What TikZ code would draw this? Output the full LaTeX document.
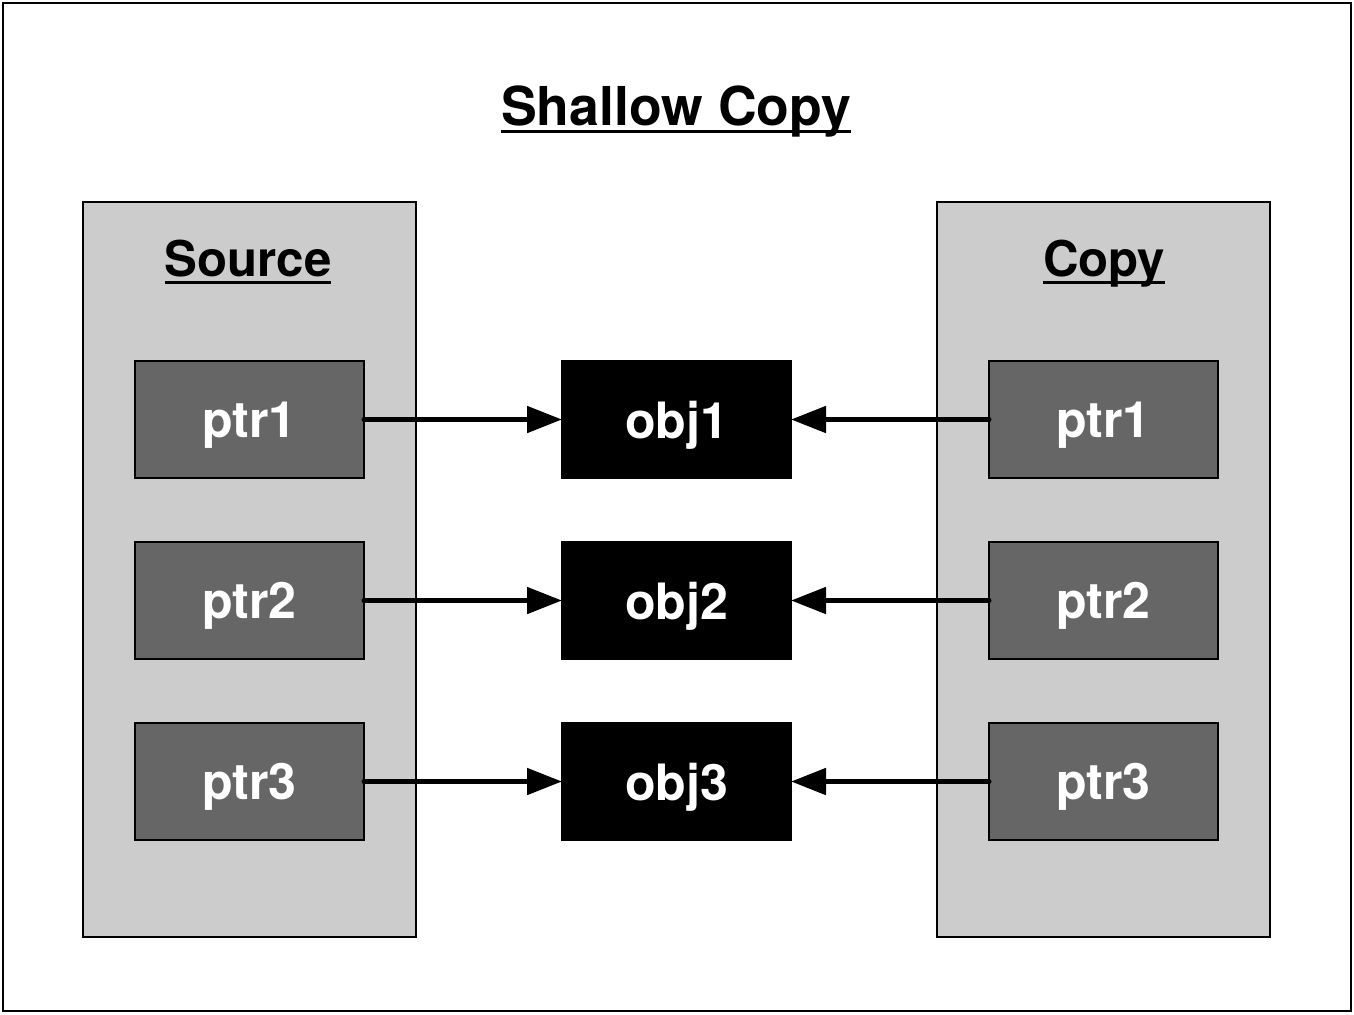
\documentclass[tikz,border=0pt]{standalone}
\usepackage{fontspec}
\setmainfont{TeX Gyre Heros}
\usepackage{xcolor}
\usetikzlibrary{arrows.meta, positioning}

\definecolor{panelgray}{HTML}{CCCCCC}
\definecolor{ptrgray}{HTML}{666666}

% underline at a fixed depth under the baseline
\newcommand{\ulined}[1]{\setbox0\hbox{#1}\rlap{\rule[-0.15cm]{\wd0}{0.06cm}}\box0}

\begin{document}
\begin{tikzpicture}[
    outer sep=0pt,
    panel/.style={rectangle, draw, line width=1.1pt, fill=panelgray, minimum width=6.66cm, minimum height=14.7cm},
    ptr/.style={rectangle, draw, line width=1pt, fill=ptrgray, text=white, minimum width=4.58cm, minimum height=2.34cm, text depth=0pt, font=\fontsize{28.5}{34}\selectfont\bfseries},
    obj/.style={rectangle, draw, line width=1pt, fill=black, text=white, minimum width=4.58cm, minimum height=2.34cm, text depth=0pt, font=\fontsize{28.5}{34}\selectfont\bfseries},
    heading/.style={anchor=base, font=\fontsize{28}{34}\selectfont\bfseries},
    arrow/.style={-{Triangle[length=0.7cm, width=0.52cm]}, line width=0.1cm, line cap=round}
]

% frame and page size
\useasboundingbox (0,0) rectangle (27.08,-20.28);
\draw[line width=1.1pt] (0.06,-0.06) rectangle (27.02,-20.22);

% title
\node[anchor=base, font=\fontsize{30.5}{36}\selectfont\bfseries] (title) at (13.52,-2.5) {\ulined{Shallow Copy}};

% Source and Copy panels
\node[panel] (source) at (4.99,-11.39) {};
\node[panel] (copy) at (22.07,-11.39) {};
\node[heading] (sourceLabel) at (4.96,-5.52) {\ulined{Source}};
\node[heading] (copyLabel) at (22.08,-5.52) {\ulined{Copy}};

% pointers of Source
\node[ptr] (sptr1) at (4.99,-8.39) {ptr1};
\node[ptr, below=1.28cm of sptr1] (sptr2) {ptr2};
\node[ptr, below=1.28cm of sptr2] (sptr3) {ptr3};

% shared objects
\node[obj, right=3.96cm of sptr1] (obj1) {obj1};
\node[obj, right=3.96cm of sptr2] (obj2) {obj2};
\node[obj, right=3.96cm of sptr3] (obj3) {obj3};

% pointers of Copy
\node[ptr, right=3.96cm of obj1] (cptr1) {ptr1};
\node[ptr, right=3.96cm of obj2] (cptr2) {ptr2};
\node[ptr, right=3.96cm of obj3] (cptr3) {ptr3};

% Arrows
\draw[arrow] (sptr1.east) -- (obj1.west);
\draw[arrow] (sptr2.east) -- (obj2.west);
\draw[arrow] (sptr3.east) -- (obj3.west);
\draw[arrow] (cptr1.west) -- (obj1.east);
\draw[arrow] (cptr2.west) -- (obj2.east);
\draw[arrow] (cptr3.west) -- (obj3.east);

\end{tikzpicture}
\end{document}
